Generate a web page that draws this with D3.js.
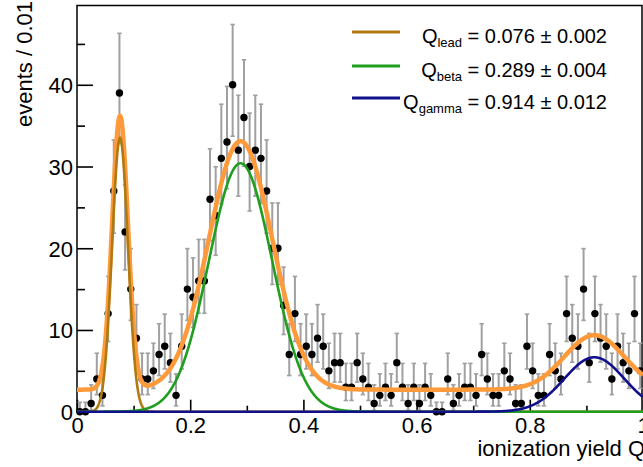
<!DOCTYPE html>
<html><head><meta charset="utf-8">
<script src="https://cdn.jsdelivr.net/npm/d3@7"></script>
<style>
body{margin:0;background:#fff;}
svg{display:block;}
text{font-family:"Liberation Sans",Arial,Helvetica,sans-serif;fill:#000;}
</style>
</head><body>
<svg id="c" width="643" height="467"></svg>
<script>
// ---- data: histogram counts, bins of width 0.01 from 0 to 1 ----
const binWidth = 0.01;
const counts = [
  0,0,1,4,2,12,27,39,22,15,
  9,4,4,5,7,8,6,2,8,15,
  14,16,16,26,24,31,33,40,32,36,
  30,32,31,27,20,20,13,7,12,7,
  8,7,9,8,5,6,6,3,3,6,
  4,3,1,2,3,2,6,3,1,3,
  1,3,2,0,0,4,1,2,3,3,
  2,7,4,2,2,5,4,1,1,8,
  5,2,2,7,5,4,12,9,8,15,
  6,12,9,8,4,8,6,5,12,5
];
// ---- fit components ----
const compNames = ["lead","beta","gamma"];
const compMeans = [0.076, 0.289, 0.914];
const compSigmas = [0.014, 0.056, 0.053];
const compAmps = [33.5, 30.4, 6.66];
const compColors = ["#b07a12","#1f9e1f","#10108c"];
const compErrors = ["0.002","0.004","0.012"];
const background = 2.7;
const totalColor = "#ff9a3a";

const xTicksMajor = [0,0.2,0.4,0.6,0.8,1];
const xTicksMinor = [0.1,0.3,0.5,0.7,0.9];
const yTicksMajor = [0,10,20,30,40];
const yTicksMinor = [5,15,25,35,45];
const xTitle = "ionization yield Q";
const yTitle = "events / 0.01";

const svg = d3.select("#c");
const x = d3.scaleLinear().domain([0,1]).range([77,643]);
const y = d3.scaleLinear().domain([0,49.7]).range([411.7,5.5]);

// Poisson (Garwood, Wilson-Hilferty approx) 68% interval
function poissonInterval(n){
  if(n===0) return [0,1.15];
  const lo = n*Math.pow(1-1/(9*n)-1/(3*Math.sqrt(n)),3);
  const m=n+1;
  const hi = m*Math.pow(1-1/(9*m)+1/(3*Math.sqrt(m)),3);
  return [lo,hi];
}
const data = counts.map((c,i)=>({q:(i+0.5)*binWidth, n:c, iv:poissonInterval(c)}));

// axes
function styleAxis(g){ g.select(".domain").remove(); g.selectAll("line").attr("stroke","#000").attr("stroke-width",1.6); }
const fmt = d => String(+d.toFixed(1));
svg.append("g").attr("transform",`translate(0,${y(0)})`)
  .call(d3.axisBottom(x).tickValues(xTicksMajor).tickSize(-12).tickFormat(fmt))
  .call(styleAxis)
  .call(g=>g.selectAll("text").attr("y",21.5).attr("dy",null).attr("font-size",22));
svg.append("g").attr("transform",`translate(0,${y(0)})`)
  .call(d3.axisBottom(x).tickValues(xTicksMinor).tickSize(-6).tickFormat(""))
  .call(styleAxis);
svg.append("g").attr("transform",`translate(${x(0)},0)`)
  .call(d3.axisLeft(y).tickValues(yTicksMajor).tickSize(-16).tickFormat(d3.format("d")))
  .call(styleAxis)
  .call(g=>g.selectAll("text").attr("x",-4).attr("dy",null).attr("y",8).attr("font-size",22));
svg.append("g").attr("transform",`translate(${x(0)},0)`)
  .call(d3.axisLeft(y).tickValues(yTicksMinor).tickSize(-8).tickFormat(""))
  .call(styleAxis);

// frame
svg.append("rect").attr("x",x(0)).attr("y",y.range()[1]).attr("width",x(1)-x(0)-1).attr("height",y(0)-y.range()[1])
  .attr("fill","none").attr("stroke","#000").attr("stroke-width",1.5);

// titles
svg.append("text").attr("x",645).attr("y",456).attr("text-anchor","end").attr("font-size",22).text(xTitle);
svg.append("text").attr("transform","translate(32,1) rotate(-90)").attr("text-anchor","end").attr("font-size",22).text(yTitle);

// data error bars and points
const dg = svg.append("g");
dg.selectAll("line.eb").data(data).join("line").attr("class","eb")
  .attr("x1",d=>x(d.q)).attr("x2",d=>x(d.q)).attr("y1",d=>y(d.iv[0])).attr("y2",d=>y(d.iv[1]))
  .attr("stroke","#a0a0a0").attr("stroke-width",2);
dg.selectAll("line.ct").data(data).join("line").attr("class","ct")
  .attr("x1",d=>x(d.q)-2.2).attr("x2",d=>x(d.q)+2.2).attr("y1",d=>y(d.iv[1])).attr("y2",d=>y(d.iv[1]))
  .attr("stroke","#a0a0a0").attr("stroke-width",1.6);
dg.selectAll("line.cb").data(data).join("line").attr("class","cb")
  .attr("x1",d=>x(d.q)-2.2).attr("x2",d=>x(d.q)+2.2).attr("y1",d=>y(d.iv[0])).attr("y2",d=>y(d.iv[0]))
  .attr("stroke","#a0a0a0").attr("stroke-width",1.6);
dg.selectAll("circle").data(data).join("circle")
  .attr("cx",d=>x(d.q)).attr("cy",d=>y(d.n)).attr("r",3.7).attr("fill","#000");

// curves
const gauss = (q,k)=> compAmps[k]*Math.exp(-0.5*Math.pow((q-compMeans[k])/compSigmas[k],2));
const qs = d3.range(0,1.0005,0.001);
const line = d3.line().x(d=>x(d[0])).y(d=>y(d[1]));
svg.append("path").attr("d",line(qs.map(q=>[q,background+gauss(q,0)+gauss(q,1)+gauss(q,2)])))
  .attr("fill","none").attr("stroke",totalColor).attr("stroke-width",4.5).attr("stroke-linejoin","round");
[0,1,2].forEach(k=>{
  svg.append("path").attr("d",line(qs.map(q=>[q,gauss(q,k)])))
    .attr("fill","none").attr("stroke",compColors[k]).attr("stroke-width",2.6);
});

// legend
const legY = [32,66,98];
compNames.forEach((nm,k)=>{
  svg.append("line").attr("x1",352).attr("x2",400).attr("y1",legY[k]).attr("y2",legY[k])
    .attr("stroke",compColors[k]).attr("stroke-width",3);
  const t = svg.append("text").attr("x",607).attr("y",legY[k]+11).attr("text-anchor","end").attr("font-size",20);
  t.append("tspan").text("Q");
  t.append("tspan").attr("font-size",13).attr("dy",4).text(nm);
  t.append("tspan").attr("dy",-4).text(` = ${compMeans[k].toFixed(3)} \u00b1 ${compErrors[k]}`);
});
</script>
</body></html>
